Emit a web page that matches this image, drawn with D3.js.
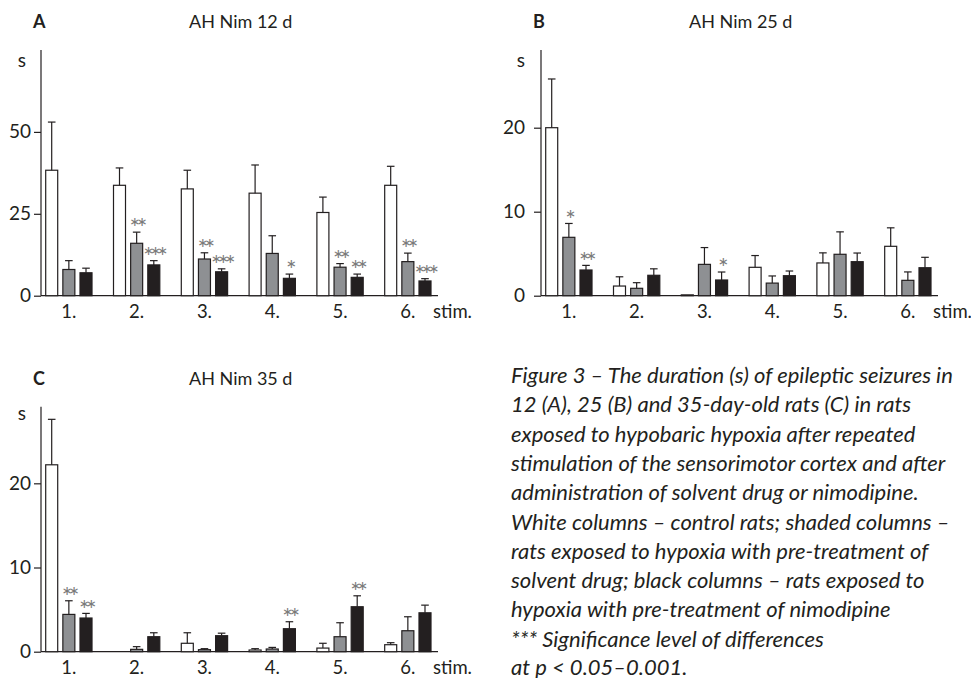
<!DOCTYPE html>
<html><head><meta charset="utf-8">
<script src="https://cdn.jsdelivr.net/npm/d3@7"></script>
<style>body{margin:0;background:#fff}svg{display:block}</style>
</head><body><svg id="c" width="971" height="678"></svg>
<script>
// ---- data ----
const stims = ["1.","2.","3.","4.","5.","6."];
const groups = ["control","solvent","nimodipine"];

const A_control = [38.3, 33.7, 32.6, 31.3, 25.4, 33.7];
const A_controlSE = [14.7, 5.3, 5.7, 8.6, 4.7, 5.8];
const A_solvent = [8.0, 16.0, 11.2, 12.9, 8.7, 10.4];
const A_solventSE = [2.7, 3.4, 1.9, 5.4, 1.1, 2.6];
const A_nimo = [7.0, 9.4, 7.3, 5.3, 5.6, 4.5];
const A_nimoSE = [1.4, 1.3, 0.9, 1.3, 1.0, 0.7];
const A_solventStars = ["", "**", "**", "", "**", "**"];
const A_nimoStars = ["", "***", "***", "*", "**", "***"];
const A_ticks = [0, 25, 50];

const B_control = [20.0, 1.15, 0.1, 3.38, 3.9, 5.88];
const B_controlSE = [5.8, 1.1, 0, 1.4, 1.2, 2.2];
const B_solvent = [6.95, 0.88, 3.73, 1.5, 4.93, 1.83];
const B_solventSE = [1.65, 0.67, 2.0, 0.85, 2.67, 1.0];
const B_nimo = [3.06, 2.43, 1.87, 2.38, 4.05, 3.33];
const B_nimoSE = [0.55, 0.77, 0.95, 0.56, 1.03, 1.24];
const B_solventStars = ["*", "", "", "", "", ""];
const B_nimoStars = ["**", "", "*", "", "", ""];
const B_ticks = [0, 10, 20];

const C_control = [22.2, 0, 1.0, 0.2, 0.43, 0.83];
const C_controlSE = [5.4, 0, 1.25, 0.16, 0.57, 0.24];
const C_solvent = [4.43, 0.28, 0.24, 0.32, 1.78, 2.49];
const C_solventSE = [1.62, 0.32, 0.12, 0.19, 1.66, 1.66];
const C_nimo = [4.0, 1.78, 1.9, 2.73, 5.34, 4.62];
const C_nimoSE = [0.55, 0.47, 0.3, 0.83, 1.3, 0.91];
const C_solventStars = ["**", "", "", "", "", ""];
const C_nimoStars = ["**", "", "", "**", "**", ""];
const C_ticks = [0, 10, 20];

const captionLines = [
  "Figure 3 \u2013 The duration (s) of epileptic seizures in",
  "12 (A), 25 (B) and 35-day-old rats (C) in rats",
  "exposed to hypobaric hypoxia after repeated",
  "stimulation of the sensorimotor cortex and after",
  "administration of solvent drug or nimodipine.",
  "White columns \u2013 control rats; shaded columns \u2013",
  "rats exposed to hypoxia with pre-treatment of",
  "solvent drug; black columns \u2013 rats exposed to",
  "hypoxia with pre-treatment of nimodipine",
  "*** Significance level of differences",
  "at p < 0.05\u20130.001."
];

// ---- drawing ----
const svg = d3.select("#c");
const FONT = "Lato, 'Open Sans', sans-serif";
const INK = "#231f20";
const fills = {control: "#ffffff", solvent: "#8e9093", nimodipine: "#231f20"};

const panels = [
  {letter: "A", title: "AH Nim 12 d", ax: 41, top: 50, base: 295.7, right: 438, yMax: 75,
   ticks: A_ticks, labelGap: 10, sY: 67, sX: 26,
   series: {control: [A_control, A_controlSE, null], solvent: [A_solvent, A_solventSE, A_solventStars], nimodipine: [A_nimo, A_nimoSE, A_nimoStars]}},
  {letter: "B", title: "AH Nim 25 d", ax: 541, top: 50, base: 295.7, right: 938, yMax: 29.25,
   ticks: B_ticks, labelGap: 16, sY: 67, sX: 525,
   series: {control: [B_control, B_controlSE, null], solvent: [B_solvent, B_solventSE, B_solventStars], nimodipine: [B_nimo, B_nimoSE, B_nimoStars]}},
  {letter: "C", title: "AH Nim 35 d", ax: 41, top: 406.7, base: 651.7, right: 438, yMax: 29.1,
   ticks: C_ticks, labelGap: 10, sY: 420, sX: 26,
   series: {control: [C_control, C_controlSE, null], solvent: [C_solvent, C_solventSE, C_solventStars], nimodipine: [C_nimo, C_nimoSE, C_nimoStars]}}
];

panels.forEach(p => {
  const g = svg.append("g");
  const y = d3.scaleLinear().domain([0, p.yMax]).range([p.base, p.top]);
  const start = p.ax + 4.7;
  const x0 = d3.scaleBand().domain(stims).range([start, start + 385.3]).paddingInner(0.317).paddingOuter(0);
  const x1 = d3.scaleBand().domain(groups).range([0, x0.bandwidth()]).paddingInner(0.30).paddingOuter(0);

  // y axis
  const yAxis = d3.axisLeft(y).tickValues(p.ticks).tickSize(7).tickPadding(p.labelGap - 7).tickFormat(d3.format("d"));
  const ya = g.append("g").attr("transform", `translate(${p.ax},0)`).call(yAxis);
  ya.select(".domain").remove();
  ya.selectAll("line").attr("stroke", INK).attr("stroke-width", 1.2);
  ya.selectAll("text").attr("font-family", FONT).attr("font-size", 19).attr("fill", INK);
  g.append("line").attr("x1", p.ax).attr("x2", p.ax).attr("y1", p.top).attr("y2", p.base)
    .attr("stroke", INK).attr("stroke-width", 1.2);
  g.append("line").attr("x1", p.ax).attr("x2", p.right).attr("y1", p.base).attr("y2", p.base)
    .attr("stroke", INK).attr("stroke-width", 1.2);

  // bars
  groups.forEach(k => {
    const [vals, se, stars] = p.series[k];
    stims.forEach((s, i) => {
      const v = vals[i];
      const bx = x0(s) + x1(k);
      const bw = x1.bandwidth();
      if (v > 0) {
        g.append("rect").attr("x", bx).attr("y", y(v)).attr("width", bw).attr("height", y(0) - y(v))
          .attr("fill", fills[k]).attr("stroke", INK).attr("stroke-width", 1.2);
      }
      const top = v + se[i];
      const cx = bx + bw / 2;
      if (se[i] > 0) {
        g.append("line").attr("x1", cx).attr("x2", cx).attr("y1", y(v)).attr("y2", y(top))
          .attr("stroke", INK).attr("stroke-width", 1.2);
        g.append("line").attr("x1", cx - 3.8).attr("x2", cx + 3.8).attr("y1", y(top)).attr("y2", y(top))
          .attr("stroke", INK).attr("stroke-width", 1.2);
      }
      if (stars && stars[i]) {
        g.append("text").attr("x", cx).attr("y", y(top) + 5.3)
          .attr("text-anchor", "middle").attr("font-family", FONT).attr("font-size", 25)
          .attr("letter-spacing", -3.6).attr("fill", "#7a7a7a").text(stars[i]);
      }
    });
  });

  // category labels
  stims.forEach(s => {
    g.append("text").attr("x", x0(s) + x1("solvent") + x1.bandwidth() / 2).attr("y", p.base + 22)
      .attr("text-anchor", "middle").attr("font-family", FONT).attr("font-size", 18.5).attr("fill", INK).text(s);
  });
  g.append("text").attr("x", p.ax + 392).attr("y", p.base + 22)
    .attr("font-family", FONT).attr("font-size", 18.5).attr("fill", INK).text("stim.");

  // unit, letter, title
  g.append("text").attr("x", p.sX).attr("y", p.sY).attr("text-anchor", "end")
    .attr("font-family", FONT).attr("font-size", 19).attr("fill", INK).text("s");
  g.append("text").attr("x", p.ax - 8).attr("y", p.top - 22)
    .attr("font-family", FONT).attr("font-size", 18).attr("font-weight", "bold").attr("fill", INK).text(p.letter);
  g.append("text").attr("x", p.ax + 148).attr("y", p.top - 22)
    .attr("font-family", FONT).attr("font-size", 18).attr("fill", INK).text(p.title);
});

// caption: size fitted so the first line spans the same width as the reference
const cap = svg.append("g");
const probe = cap.append("text").attr("font-family", FONT).attr("font-size", 20)
  .attr("font-style", "italic").text(captionLines[0]);
const w20 = probe.node().getComputedTextLength();
probe.remove();
const capSize = 20 * 442 / w20;
captionLines.forEach((t, i) => {
  cap.append("text").attr("x", 511).attr("y", i < 10 ? 383 + i * 29.3 : 674.5)
    .attr("font-family", FONT).attr("font-size", capSize).attr("font-style", "italic").attr("fill", INK).text(t);
});
</script>
</body></html>
